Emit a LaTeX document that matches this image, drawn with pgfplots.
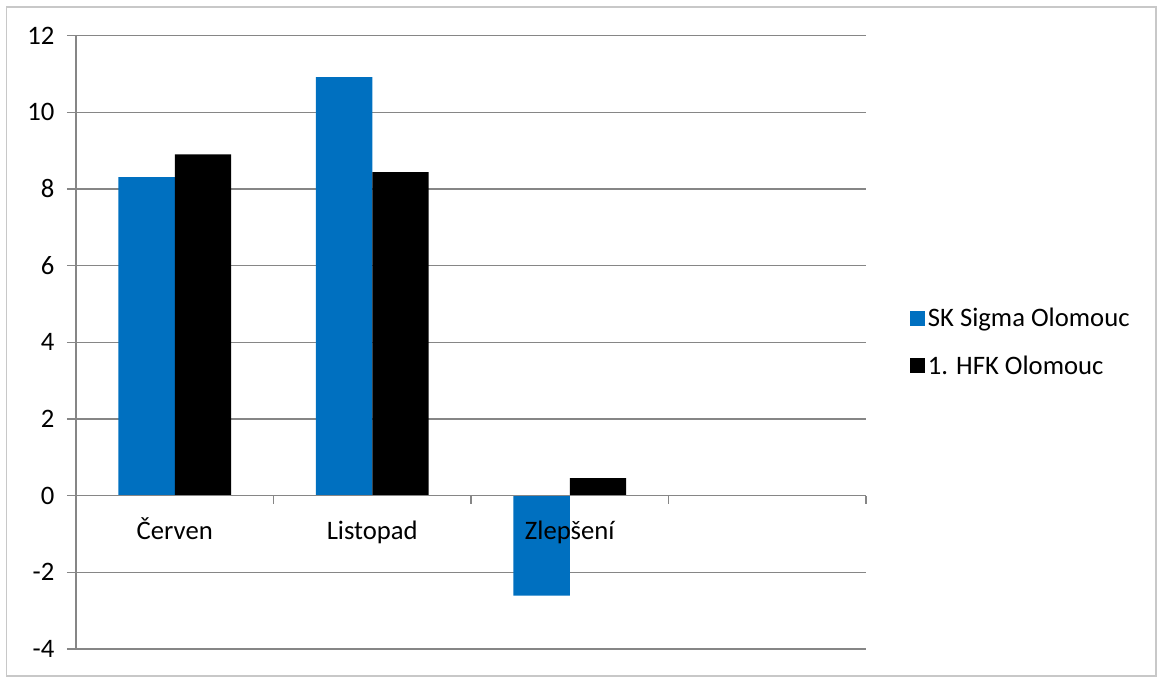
\documentclass[border=0pt]{standalone}
\usepackage{pgfplots}
\pgfplotsset{compat=1.18}
\usepackage{fontspec}
\setmainfont{Carlito}

\definecolor{sigmablue}{HTML}{0070C0}
\definecolor{gridgray}{HTML}{868686}
\definecolor{framegray}{HTML}{C8C8C8}

% Scores per period and the change between them
\pgfplotstableread{
idx sigma hfk
0   8.31  8.90
1   10.92 8.44
2   -2.61 0.46
}\scores

\newcommand{\chartfont}{\fontsize{20pt}{24pt}\selectfont}

\begin{document}
\begin{tikzpicture}[font=\chartfont]
\path (0,0) rectangle (867.75pt,507.75pt);
\draw[framegray, line width=0.9pt] (4.9pt,0.75pt) rectangle (867pt,502.5pt);
\begin{axis}[
  set layers, axis on top,
  at={(57pt,21pt)}, anchor=south west,
  scale only axis, width=592.5pt, height=460pt,
  xmin=-0.5, xmax=3.5, ymin=-4, ymax=12,
  axis x line=middle, axis y line=left,
  axis line style={gridgray, line width=0.9pt, -},
  xtick align=outside, ytick align=outside,
  ybar=0pt, bar width=0.286,
  xtick={0,1,2}, xticklabels={Červen,Listopad,Zlepšení},
  major x tick style={draw=none},
  minor xtick={-0.5,0.5,1.5,2.5,3.5},
  minor x tick style={gridgray, line width=0.9pt},
  minor tick length=6pt,
  ytick={-4,-2,...,12},
  yticklabels={-4,-2,0,2,4,6,8,10,12},
  major y tick style={gridgray, line width=0.9pt},
  major tick length=6.75pt,
  ymajorgrids,
  % grid lines stay behind the bars
  major grid style={gridgray, line width=0.9pt, /pgfplots/on layer=axis background},
  tick label style={font=\chartfont},
  xticklabel style={anchor=base, yshift=-26pt},
  yticklabel style={anchor=east, xshift=-6pt},
  /pgf/number format/assume math mode=true,
  legend style={draw=none, fill=none, at={(1,0.5)}, anchor=west,
    xshift=30pt, font=\chartfont, row sep=16pt,
    /tikz/every even column/.style={column sep=0pt}},
  legend cell align=left,
]
\addplot[fill=sigmablue, draw=none,
  legend image code/.code={\fill[sigmablue] (0pt,-5.6pt) rectangle (11.25pt,5.6pt);}]
  table[x=idx, y=sigma] {\scores};
\addlegendentry{SK Sigma Olomouc}
\addplot[fill=black, draw=none,
  legend image code/.code={\fill[black] (0pt,-5.6pt) rectangle (11.25pt,5.6pt);}]
  table[x=idx, y=hfk] {\scores};
\addlegendentry{1. HFK Olomouc}
\end{axis}
\end{tikzpicture}
\end{document}
